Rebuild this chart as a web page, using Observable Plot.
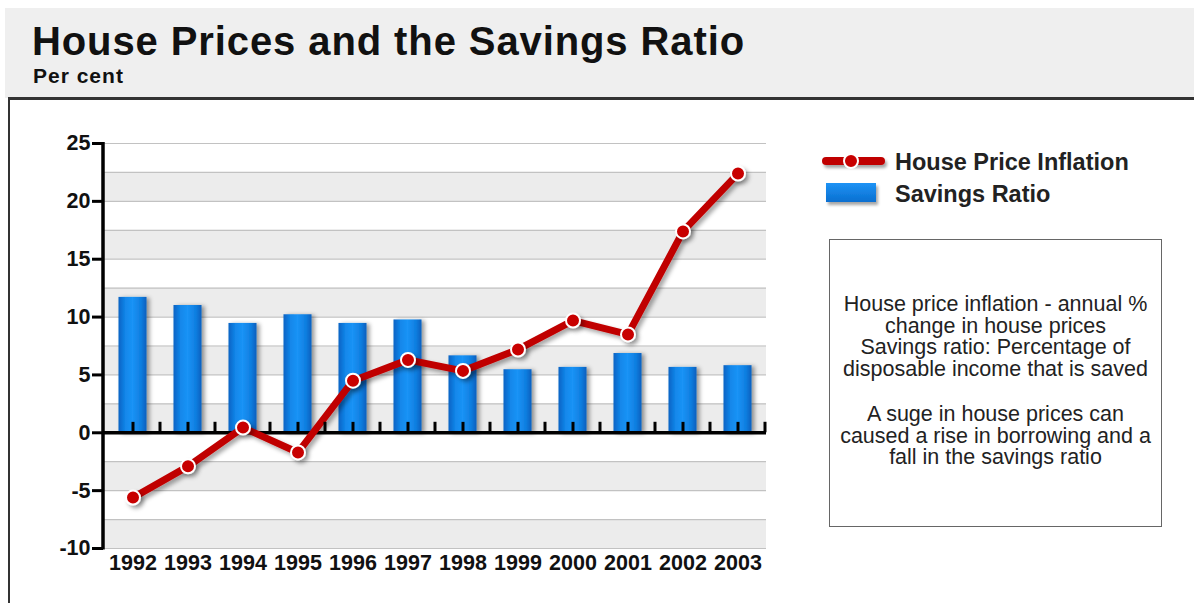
<!DOCTYPE html>
<html><head><meta charset="utf-8">
<script src="https://cdn.jsdelivr.net/npm/d3@7"></script>
<script src="https://cdn.jsdelivr.net/npm/@observablehq/plot@0.6"></script>
<style>
body{margin:0;background:#fff;font-family:"Liberation Sans",Arial,Helvetica,sans-serif;}
#wrap{position:relative;width:1194px;height:603px;overflow:hidden;background:#fff;}
#header{position:absolute;left:5px;top:8px;width:1189px;height:90px;background:#efefef;}
#title{position:absolute;left:32px;top:23px;font-size:40px;letter-spacing:0.9px;line-height:36px;font-weight:bold;color:#111;white-space:nowrap;}
#sub{position:absolute;left:33px;top:67px;font-size:21px;letter-spacing:1px;line-height:18px;font-weight:bold;color:#111;white-space:nowrap;}
#topline{position:absolute;left:8px;top:97px;width:1186px;height:3px;background:#333;}
#leftline{position:absolute;left:8px;top:97px;width:2px;height:506px;background:#333;}
#chart{position:absolute;left:10px;top:100px;}
.leg{position:absolute;font-size:23.5px;font-weight:bold;color:#222;white-space:nowrap;line-height:24px;}
#note{position:absolute;left:829px;top:239px;width:333px;height:288px;border:1.5px solid #666;box-sizing:border-box;}
#note div{position:absolute;left:0;width:100%;text-align:center;font-size:21.5px;line-height:21.7px;color:#222;white-space:nowrap;}
</style></head><body>
<div id="wrap">
  <div id="header"></div>
  <div id="title">House Prices and the Savings Ratio</div>
  <div id="sub">Per cent</div>
  <div id="topline"></div><div id="leftline"></div>
  <div id="chart"></div>
  <svg style="position:absolute;left:815px;top:145px" width="80" height="65">
    <defs>
      <linearGradient id="legGrad" x1="0" x2="0" y1="0" y2="1">
        <stop offset="0" stop-color="#1d93f5"/><stop offset="1" stop-color="#0a6fd0"/>
      </linearGradient>
      <filter id="legShadow" filterUnits="userSpaceOnUse" x="0" y="0" width="80" height="65"><feDropShadow dx="2" dy="3" stdDeviation="1.5" flood-color="#000" flood-opacity="0.35"/></filter>
    </defs>
    <rect x="7" y="12" width="63" height="8" rx="4" fill="#c00000" filter="url(#legShadow)"/>
    <circle cx="36" cy="16" r="7" fill="#c80000" stroke="#fff" stroke-width="2"/>
    <rect x="11" y="38" width="50" height="19" fill="url(#legGrad)" filter="url(#legShadow)"/>
  </svg>
  <div class="leg" style="left:895px;top:150px">House Price Inflation</div>
  <div class="leg" style="left:895px;top:182px">Savings Ratio</div>
  <div id="note">
    <div style="top:54px">House price inflation - annual %<br>change in house prices<br>Savings ratio: Percentage of<br>disposable income that is saved</div>
    <div style="top:164px">A suge in house prices can<br>caused a rise in borrowing and a<br>fall in the savings ratio</div>
  </div>
</div>
<script>
const years = ["1992","1993","1994","1995","1996","1997","1998","1999","2000","2001","2002","2003"];
const savingsRatio = [11.7, 11.0, 9.45, 10.2, 9.45, 9.75, 6.65, 5.45, 5.65, 6.85, 5.65, 5.8];
const housePriceInflation = [-5.6, -2.9, 0.45, -1.7, 4.5, 6.3, 5.35, 7.2, 9.7, 8.5, 17.4, 22.4];
const yTicks = [-10, -5, 0, 5, 10, 15, 20, 25];
const gridLines = [-10, -7.5, -5, -2.5, 0, 2.5, 5, 7.5, 10, 12.5, 15, 17.5, 20, 22.5, 25];
const shadedBands = [[-10, -7.5], [-5, -2.5], [0, 2.5], [5, 7.5], [10, 12.5], [15, 17.5], [20, 22.5]];

const data = years.map((year, i) => ({year, savings: savingsRatio[i], house: housePriceInflation[i]}));

const chart = Plot.plot({
  width: 780, height: 500,
  marginLeft: 93, marginRight: 24, marginTop: 43, marginBottom: 52,
  style: {fontFamily: "Liberation Sans, Arial, sans-serif", fontWeight: "bold", fontSize: "21.5px", color: "#111", background: "transparent", overflow: "visible"},
  x: {type: "band", domain: years, padding: 0, label: null, tickSize: 0, tickPadding: 6},
  y: {domain: [-10, 25], ticks: yTicks, tickSize: 11, tickPadding: 2, label: null, tickFormat: d => String(d)},
  marks: [
    Plot.rect(shadedBands, {y1: d => d[0], y2: d => d[1], fill: "#ececec"}),
    Plot.ruleY(gridLines, {stroke: "#c2c2c2", strokeWidth: 1.2}),
    Plot.barY(data, {x: "year", y: "savings", fill: "url(#barGrad)", insetLeft: 13.5, insetRight: 13.5}),
    Plot.ruleY([0], {stroke: "#000", strokeWidth: 3.5}),
    Plot.ruleX(years, {x: d => d, y1: 0, y2: 0.9, stroke: "#000", strokeWidth: 3}),
    Plot.line(data, {x: "year", y: "house", stroke: "#c00000", strokeWidth: 7}),
    Plot.dot(data, {x: "year", y: "house", r: 7, fill: "#c80000", stroke: "#fff", strokeWidth: 2})
  ]
});
document.getElementById("chart").appendChild(chart);

// decorations using the library's scales
const svgSel = d3.select(chart.tagName.toLowerCase() === "svg" ? chart : chart.querySelector("svg"));
const defs = svgSel.insert("defs", ":first-child");
const grad = defs.append("linearGradient").attr("id", "barGrad").attr("x1", 0).attr("x2", 1).attr("y1", 0).attr("y2", 0);
[["0", "#0a62c4"], ["0.25", "#1287ea"], ["0.5", "#1a93f6"], ["0.8", "#0f7ee0"], ["1", "#0a5fbe"]].forEach(([o, c]) => grad.append("stop").attr("offset", o).attr("stop-color", c));
const f1 = defs.append("filter").attr("id", "barShadow").attr("x", "-30%").attr("y", "-10%").attr("width", "160%").attr("height", "120%");
f1.append("feDropShadow").attr("dx", 3).attr("dy", 1).attr("stdDeviation", 2).attr("flood-color", "#000").attr("flood-opacity", 0.4);
const f2 = defs.append("filter").attr("id", "lineShadow").attr("x", "-10%").attr("y", "-10%").attr("width", "120%").attr("height", "130%");
f2.append("feDropShadow").attr("dx", 3).attr("dy", 3).attr("stdDeviation", 2).attr("flood-color", "#000").attr("flood-opacity", 0.35);
svgSel.selectAll('g[aria-label="bar"]').attr("filter", "url(#barShadow)");
svgSel.selectAll('g[aria-label="line"]').attr("filter", "url(#lineShadow)");
svgSel.selectAll('g[aria-label="dot"]').attr("filter", "url(#lineShadow)");
svgSel.selectAll('g[aria-label="y-axis tick"]').attr("stroke-width", 3).attr("stroke", "#000");

const xs = chart.scale("x"), ys = chart.scale("y");
const yPix = d3.scaleLinear(ys.domain, ys.range);
const step = xs.step || ((xs.range[1] - xs.range[0]) / years.length);
const x0 = xs.range[0];
const deco = svgSel.append("g");
years.forEach((yr, i) => {
  const xb = (xs.apply ? xs.apply(yr) : x0 + i * step) + step;
  deco.append("line").attr("x1", xb).attr("x2", xb).attr("y1", yPix(0)).attr("y2", yPix(0) - 10.5).attr("stroke", "#000").attr("stroke-width", 3);
});
deco.append("line").attr("x1", x0).attr("x2", x0).attr("y1", yPix(25) - 1).attr("y2", yPix(-10) + 1.5).attr("stroke", "#000").attr("stroke-width", 3.5);
</script>
</body></html>
